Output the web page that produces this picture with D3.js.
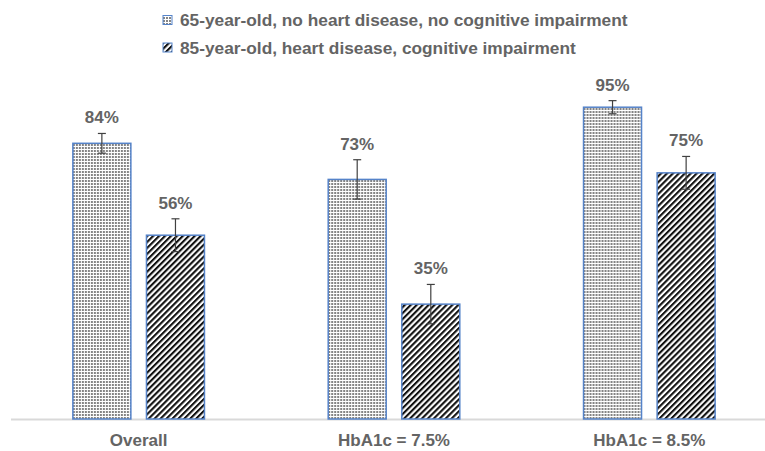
<!DOCTYPE html>
<html><head><meta charset="utf-8">
<script src="https://cdn.jsdelivr.net/npm/d3@7"></script>
<style>body{margin:0;background:#fff}svg{display:block}</style>
</head><body>
<script>
const categories = ["Overall", "HbA1c = 7.5%", "HbA1c = 8.5%"];
const seriesNames = ["65-year-old, no heart disease, no cognitive impairment",
                     "85-year-old, heart disease, cognitive impairment"];
const series1 = [84, 73, 95];
const err1 = [3, 6, 2];
const series2 = [56, 35, 75];
const err2 = [5, 6, 5];

const W = 765, H = 451;
const font = "'Liberation Sans', Arial, sans-serif";
const gray = "#646464";
const svg = d3.select("body").append("svg").attr("width", W).attr("height", H);

const defs = svg.append("defs");
const p1 = defs.append("pattern").attr("id", "dots").attr("patternUnits", "userSpaceOnUse")
  .attr("width", 3).attr("height", 3);
p1.append("rect").attr("width", 3).attr("height", 3).attr("fill", "#fff");
p1.append("rect").attr("x", 0).attr("y", 0).attr("width", 2).attr("height", 2).attr("fill", "#9a9a9a");
p1.append("rect").attr("x", 0.5).attr("y", 0.5).attr("width", 1).attr("height", 1).attr("fill", "#444");
const p2 = defs.append("pattern").attr("id", "stripes").attr("patternUnits", "userSpaceOnUse")
  .attr("width", 4.2).attr("height", 4.2).attr("patternTransform", "rotate(45)");
p2.append("rect").attr("width", 4.2).attr("height", 4.2).attr("fill", "#fff");
p2.append("rect").attr("width", 2.1).attr("height", 4.2).attr("fill", "#111");

const x0 = d3.scaleBand().domain(categories).range([11, 777]).paddingInner(0).paddingOuter(0);
const x1 = d3.scaleBand().domain([0, 1]).range([0, 131.6]).paddingInner(0.212);
const y = d3.scaleLinear().domain([0, 100]).range([419, 90.8]);
const groupOffset = (x0.bandwidth() - 131.6) / 2;

const fills = ["url(#dots)", "url(#stripes)"];
const data = categories.map((c, i) => ({c, vals: [
  {s: 0, v: series1[i], e: err1[i]}, {s: 1, v: series2[i], e: err2[i]}]}));

// axis line
svg.append("line").attr("x1", 11).attr("x2", W).attr("y1", y(0) + 0.5).attr("y2", y(0) + 0.5)
  .attr("stroke", "#d9d9d9").attr("stroke-width", 2);

const g = svg.selectAll("g.grp").data(data).join("g").attr("class", "grp")
  .attr("transform", d => `translate(${x0(d.c) + groupOffset},0)`);

g.selectAll("rect").data(d => d.vals).join("rect")
  .attr("x", d => x1(d.s)).attr("width", x1.bandwidth())
  .attr("y", d => y(d.v)).attr("height", d => y(0) - y(d.v))
  .attr("fill", d => fills[d.s]).attr("stroke", "#5583c9").attr("stroke-width", 1.5);

const eb = g.selectAll("g.eb").data(d => d.vals).join("g").attr("class", "eb")
  .attr("stroke", "#404040").attr("stroke-width", 1.2);
eb.append("line").attr("x1", d => x1(d.s) + x1.bandwidth() / 2).attr("x2", d => x1(d.s) + x1.bandwidth() / 2)
  .attr("y1", d => y(d.v + d.e)).attr("y2", d => y(d.v - d.e));
eb.append("line").attr("x1", d => x1(d.s) + x1.bandwidth() / 2 - 4).attr("x2", d => x1(d.s) + x1.bandwidth() / 2 + 4)
  .attr("y1", d => y(d.v + d.e)).attr("y2", d => y(d.v + d.e));
eb.append("line").attr("x1", d => x1(d.s) + x1.bandwidth() / 2 - 4).attr("x2", d => x1(d.s) + x1.bandwidth() / 2 + 4)
  .attr("y1", d => y(d.v - d.e)).attr("y2", d => y(d.v - d.e));

g.selectAll("text.lbl").data(d => d.vals).join("text").attr("class", "lbl")
  .attr("x", d => x1(d.s) + x1.bandwidth() / 2).attr("y", d => y(d.v + d.e) - 10)
  .attr("text-anchor", "middle").attr("font-family", font).attr("font-weight", "bold")
  .attr("font-size", 17).attr("fill", gray).text(d => d.v + "%");

// category labels
svg.selectAll("text.cat").data(categories).join("text").attr("class", "cat")
  .attr("x", d => x0(d) + x0.bandwidth() / 2).attr("y", 446)
  .attr("text-anchor", "middle").attr("font-family", font).attr("font-weight", "bold")
  .attr("font-size", 17).attr("fill", gray).text(d => d);

// legend
const lg = svg.selectAll("g.leg").data(seriesNames).join("g").attr("class", "leg")
  .attr("transform", (d, i) => `translate(163,${20 + i * 27.5})`);
lg.append("rect").attr("x", 0).attr("y", -4.5).attr("width", 9).attr("height", 9)
  .attr("fill", (d, i) => fills[i]).attr("stroke", "#5583c9").attr("stroke-width", 1);
lg.append("text").attr("x", 17).attr("y", 6).attr("font-family", font).attr("font-weight", "bold")
  .attr("font-size", 17.3).attr("fill", gray).text(d => d);
</script>
</body></html>
